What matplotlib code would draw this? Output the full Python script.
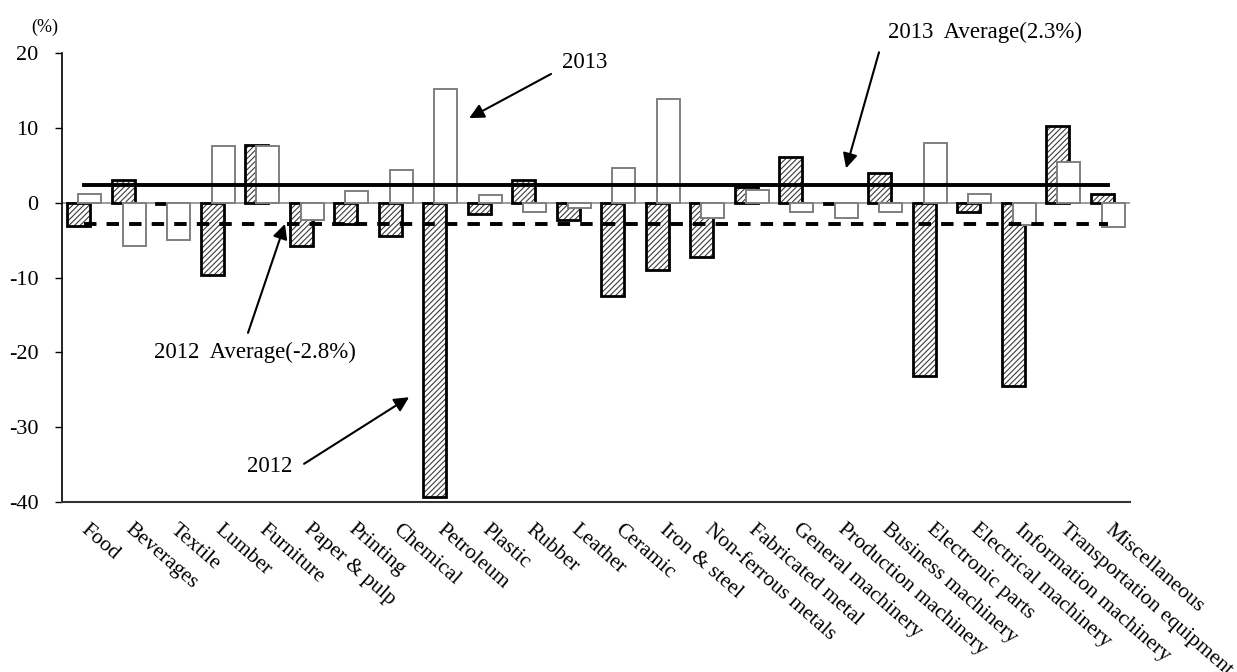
import numpy as np
import matplotlib
matplotlib.use('Agg')
import matplotlib.pyplot as plt
from matplotlib import rcParams
rcParams['font.family'] = ['Liberation Serif', 'DejaVu Serif']
rcParams['hatch.linewidth'] = 0.8
rcParams['axes.unicode_minus'] = False

categories = ['Food', 'Beverages', 'Textile', 'Lumber', 'Furniture', 'Paper & pulp',
              'Printing', 'Chemical', 'Petroleum', 'Plastic', 'Rubber', 'Leather',
              'Ceramic', 'Iron & steel', 'Non-ferrous metals', 'Fabricated metal',
              'General machinery', 'Production machinery', 'Business machinery',
              'Electronic parts', 'Electrical machinery', 'Information machinery',
              'Transportation equipment', 'Miscellaneous']
v2012 = [-3.1, 3.0, -0.2, -9.6, 7.7, -5.8, -2.8, -4.5, -39.4, -1.5, 3.0, -2.3,
         -12.5, -9.0, -7.3, 2.1, 6.1, -0.2, 4.0, -23.2, -1.3, -24.5, 10.3, 1.2]
v2013 = [1.2, -5.8, -5.0, 7.6, 7.6, -2.3, 1.5, 4.4, 15.2, 1.0, -1.2, -0.7,
         4.6, 13.8, -2.1, 1.7, -1.2, -2.0, -1.2, 8.0, 1.2, -3.0, 5.4, -3.2]
avg2012 = -2.8
avg2013 = 2.3
yticks = [-40, -30, -20, -10, 0, 10, 20]

x = np.arange(len(categories))
w = 0.51
off = 0.125

fig = plt.figure(figsize=(12.37, 6.72), dpi=100)
ax = fig.add_axes([0.0501, 0.2530, 0.8634, 0.6681])

ax.axhline(0, color='#8c8c8c', lw=1.2, zorder=1)

# 2012: hatched, thick black outline
ax.bar(x - off, v2012, w, color='white', edgecolor='#3c3c3c', hatch='//////', lw=0, zorder=2)
ax.bar(x - off, v2012, w, fill=False, edgecolor='black', lw=2.0, zorder=2)
# 2013: white, grey outline, drawn on top
ax.bar(x + off, v2013, w, facecolor='white', edgecolor='#7f7f7f', lw=1.4, zorder=3)

# averages
ax.plot([x[0], x[-1]], [avg2013, avg2013], color='black', lw=2.8, zorder=5)
ax.plot([x[0], x[-1]], [avg2012, avg2012], color='black', lw=2.8, ls=(0, (3.2, 2.6)), zorder=5)

ax.set_xlim(-0.5, len(categories) - 0.5)
ax.set_ylim(-40, 20)
ax.set_yticks(yticks)
ax.tick_params(axis='y', direction='out', length=5, width=1, pad=12, labelsize=16)
ax.set_xticks([])
for s in ['top', 'right']:
    ax.spines[s].set_visible(False)
ax.spines['left'].set_linewidth(1.2)
ax.spines['bottom'].set_linewidth(1.5)
ax.spines['bottom'].set_color('#333333')

trans = ax.get_xaxis_transform()
for i, lab in enumerate(categories):
    ax.annotate(lab, xy=(i, 0), xycoords=trans, xytext=(4, -13), textcoords='offset points',
                rotation=-41, rotation_mode='anchor', ha='left', va='top', fontsize=15.5)

fig.text(0.036, 0.960, '(%)', fontsize=13, ha='center', va='center')

arrow = dict(arrowstyle='-|>', lw=1.5, color='black', mutation_scale=22, shrinkA=0, shrinkB=0)
ax.text(11.25, 18.8, '2013', fontsize=16.5, ha='center', va='center')
ax.annotate('', xy=(8.65, 11.3), xytext=(10.49, 17.2), arrowprops=arrow)
ax.text(20.24, 22.7, '2013  Average(2.3%)', fontsize=16.5, ha='center', va='center')
ax.annotate('', xy=(17.12, 4.6), xytext=(17.86, 20.1), arrowprops=arrow)
ax.text(3.84, -19.95, '2012  Average(-2.8%)', fontsize=16.5, ha='center', va='center')
ax.annotate('', xy=(4.51, -2.85), xytext=(3.68, -17.4), arrowprops=arrow)
ax.text(4.17, -35.3, '2012', fontsize=16.5, ha='center', va='center')
ax.annotate('', xy=(7.30, -26.0), xytext=(4.94, -34.9), arrowprops=arrow)

fig.savefig('out.png', dpi=100)
